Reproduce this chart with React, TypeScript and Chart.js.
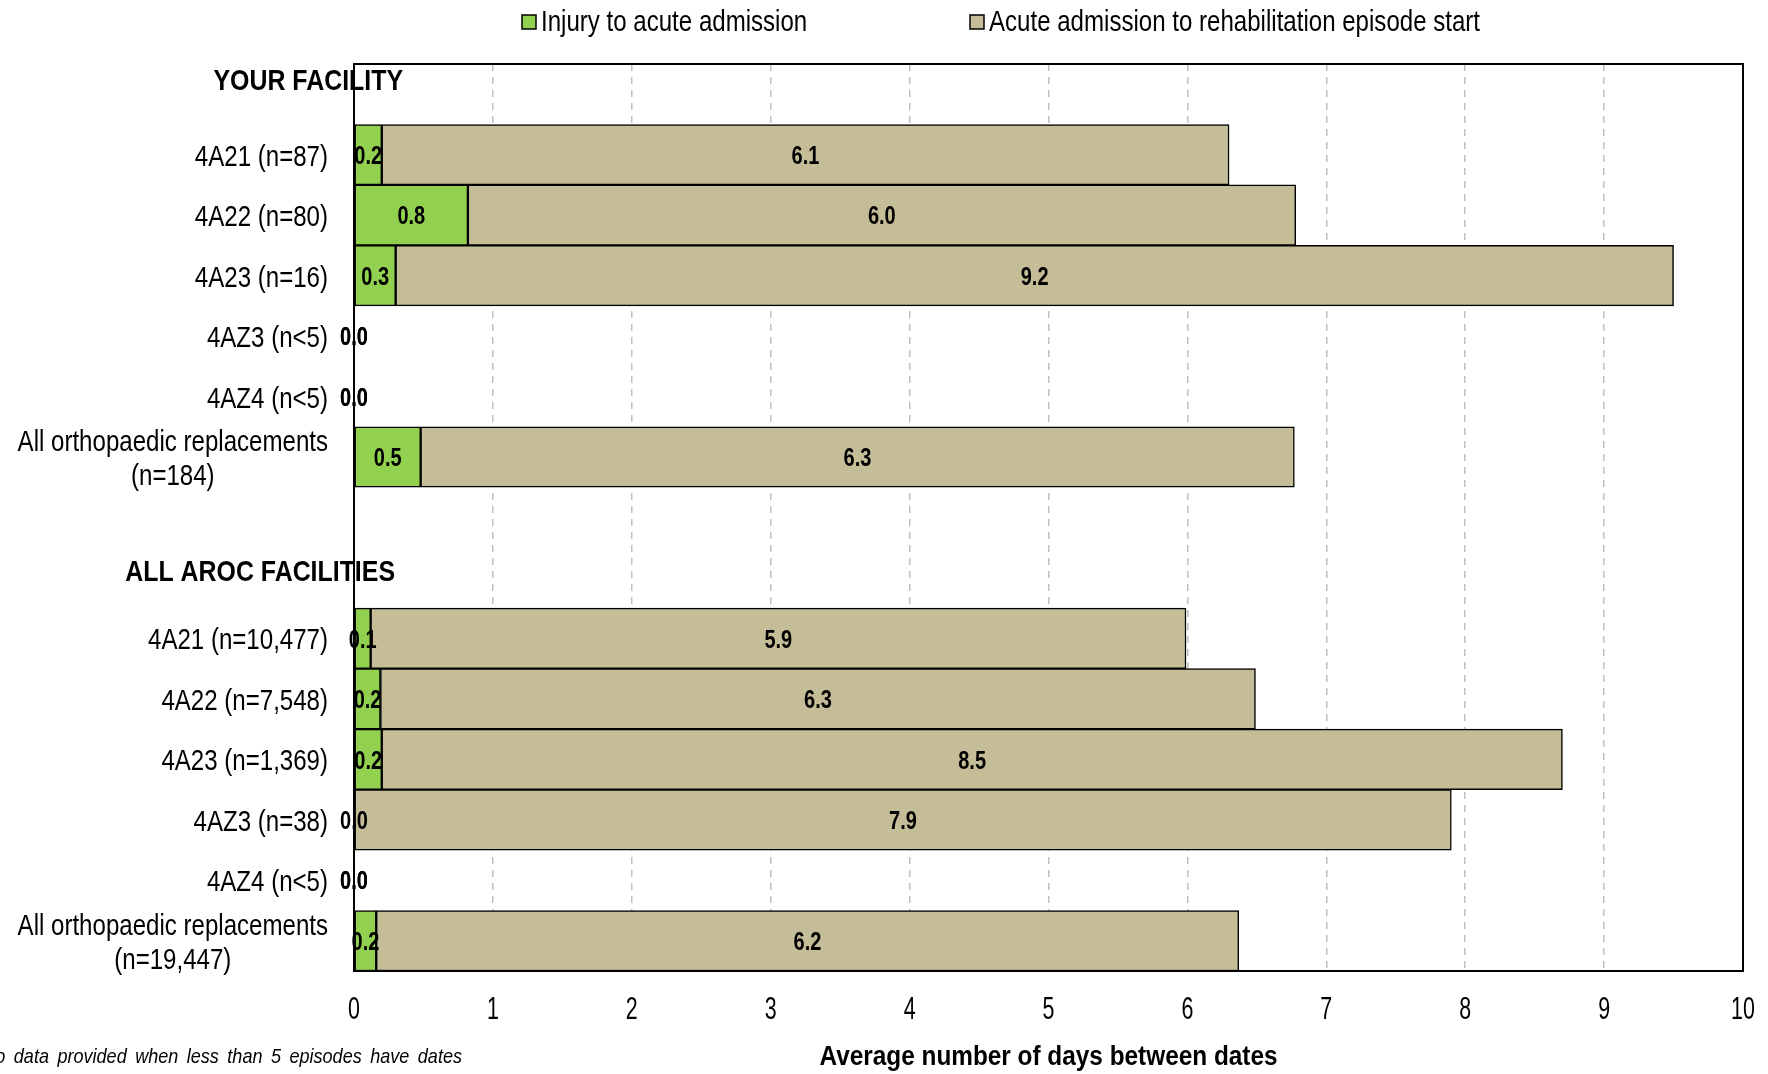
import React, { useEffect, useRef } from "react";
import { Chart, registerables } from "chart.js";

Chart.register(...registerables);

// ---------- DATA ----------
const categories: (string | string[])[] = [
  "YOUR FACILITY",
  "4A21 (n=87)",
  "4A22 (n=80)",
  "4A23 (n=16)",
  "4AZ3 (n<5)",
  "4AZ4 (n<5)",
  ["All orthopaedic replacements", "(n=184)"],
  "",
  "ALL AROC FACILITIES",
  "4A21 (n=10,477)",
  "4A22 (n=7,548)",
  "4A23 (n=1,369)",
  "4AZ3 (n=38)",
  "4AZ4 (n<5)",
  ["All orthopaedic replacements", "(n=19,447)"],
];
const sectionHeaders = ["YOUR FACILITY", "ALL AROC FACILITIES"];
const seriesNames = [
  "Injury to acute admission",
  "Acute admission to rehabilitation episode start",
];
const injuryToAcute = [null, 0.2, 0.82, 0.3, 0, 0, 0.48, null, null, 0.12, 0.19, 0.2, 0, 0, 0.16];
const acuteToRehab = [null, 6.1, 5.96, 9.2, 0, 0, 6.29, null, null, 5.87, 6.3, 8.5, 7.9, 0, 6.21];
const xMin = 0;
const xMax = 10;
const xStep = 1;
const xTitle = "Average number of days between dates";
const footnote = "No data provided when less than 5 episodes have dates";

// ---------- STYLE ----------
const FAMILY = "'Liberation Sans', Arial, sans-serif";
const GREEN = "#92D050";
const TAN = "#C4BD97";

function drawText(
  ctx: CanvasRenderingContext2D,
  s: string,
  x: number,
  y: number,
  font: string,
  align: CanvasTextAlign,
  sx: number,
  wordSpacing?: string
) {
  ctx.save();
  ctx.font = font;
  ctx.textAlign = align;
  ctx.textBaseline = "middle";
  if (wordSpacing && "wordSpacing" in ctx) (ctx as any).wordSpacing = wordSpacing;
  ctx.translate(x, y);
  ctx.scale(sx, 1);
  ctx.fillText(s, 0, 0);
  ctx.restore();
}

const decorPlugin = {
  id: "decor",
  afterDatasetsDraw(chart: any) {
    const ctx = chart.ctx;
    ctx.save();
    ctx.fillStyle = "#000";
    chart.data.datasets.forEach((ds: any, i: number) => {
      const meta = chart.getDatasetMeta(i);
      meta.data.forEach((el: any, j: number) => {
        const v = ds.data[j];
        if (v === null || v === undefined) return;
        const p = el.getProps(["x", "base", "y"], true);
        drawText(ctx, Number(v).toFixed(1), (p.x + p.base) / 2, p.y + 2, `bold 26px ${FAMILY}`, "center", 0.77);
      });
    });
    ctx.restore();
  },
  afterDraw(chart: any) {
    const ctx = chart.ctx;
    const area = chart.chartArea;
    const yScale = chart.scales.y;
    const xScale = chart.scales.x;
    ctx.save();
    ctx.fillStyle = "#000";

    // category labels
    const labelRight = area.left - 26;
    chart.data.labels.forEach((lab: any, i: number) => {
      const y = yScale.getPixelForValue(i);
      if (typeof lab === "string" && sectionHeaders.includes(lab)) {
        const hi = sectionHeaders.indexOf(lab);
        const rightX = hi === 0 ? 403 : 395;
        const off = hi === 0 ? -12 : -5;
        drawText(ctx, lab, rightX, y + off, `bold 30px ${FAMILY}`, "right", 0.83);
        return;
      }
      const lines: string[] = Array.isArray(lab) ? lab : [lab];
      if (!lines.length || (lines.length === 1 && lines[0] === "")) return;
      const font = `29px ${FAMILY}`;
      const sx = 0.83;
      ctx.font = font;
      const widths = lines.map((l) => ctx.measureText(l).width * sx);
      const maxW = Math.max(...widths);
      const cx = labelRight - maxW / 2;
      const lh = 34;
      const y0 = y + 3 - ((lines.length - 1) * lh) / 2;
      lines.forEach((l, k) => drawText(ctx, l, cx, y0 + k * lh, font, "center", sx));
    });

    // x tick labels
    xScale.ticks.forEach((t: any) => {
      const px = xScale.getPixelForValue(t.value);
      drawText(ctx, String(t.value), px, 1010, `32px ${FAMILY}`, "center", 0.67);
    });

    // x title
    drawText(ctx, xTitle, (area.left + area.right) / 2, 1057, `bold 28px ${FAMILY}`, "center", 0.87);

    // legend
    const legendX = [522, 970];
    chart.data.datasets.forEach((ds: any, i: number) => {
      const x = legendX[i];
      ctx.fillStyle = ds.backgroundColor;
      ctx.fillRect(x, 15, 14, 14);
      ctx.lineWidth = 1.5;
      ctx.strokeStyle = "#000";
      ctx.strokeRect(x, 15, 14, 14);
      ctx.fillStyle = "#000";
      drawText(ctx, ds.label, x + 19, 23, `29px ${FAMILY}`, "left", 0.83);
    });

    // footnote
    drawText(ctx, footnote, 462, 1057, `italic 21px ${FAMILY}`, "right", 0.86, "4px");

    // plot border
    ctx.lineWidth = 2;
    ctx.strokeStyle = "#000";
    ctx.strokeRect(area.left, area.top, area.right - area.left, area.bottom - area.top);
    ctx.restore();
  },
};

export default function App() {
  const canvasRef = useRef<HTMLCanvasElement | null>(null);

  useEffect(() => {
    if (!canvasRef.current) return;
    const chart = new Chart(canvasRef.current, {
      type: "bar",
      data: {
        labels: categories,
        datasets: [
          {
            label: seriesNames[0],
            data: injuryToAcute as any,
            backgroundColor: GREEN,
            borderColor: "#000",
            borderWidth: 1.5,
            borderSkipped: false,
          },
          {
            label: seriesNames[1],
            data: acuteToRehab as any,
            backgroundColor: TAN,
            borderColor: "#000",
            borderWidth: 1.5,
            borderSkipped: false,
          },
        ],
      },
      options: {
        indexAxis: "y",
        responsive: false,
        animation: false,
        events: [],
        layout: { padding: { top: 64, right: 25, bottom: 0, left: 0 } },
        datasets: { bar: { categoryPercentage: 1, barPercentage: 1 } },
        plugins: {
          legend: { display: false },
          tooltip: { enabled: false },
        },
        scales: {
          x: {
            stacked: true,
            min: xMin,
            max: xMax,
            ticks: { stepSize: xStep, display: false },
            grid: {
              color: "#C0C0C0",
              lineWidth: 1.5,
              drawTicks: false,
            },
            border: { display: false, dash: [7, 6] },
            afterFit: (scale: any) => {
              scale.height = 103;
              scale.paddingLeft = 0;
              scale.paddingRight = 0;
            },
          },
          y: {
            stacked: true,
            ticks: { display: false },
            grid: { display: false },
            border: { display: false },
            afterFit: (scale: any) => {
              scale.width = 354;
              scale.paddingTop = 0;
              scale.paddingBottom = 0;
            },
          },
        },
      } as any,
      plugins: [decorPlugin],
    });
    return () => chart.destroy();
  }, []);

  return (
    <div style={{ position: "fixed", left: 0, top: 0, width: 1768, height: 1074, background: "#fff" }}>
      <canvas ref={canvasRef} width={1768} height={1074} style={{ display: "block" }} />
    </div>
  );
}
